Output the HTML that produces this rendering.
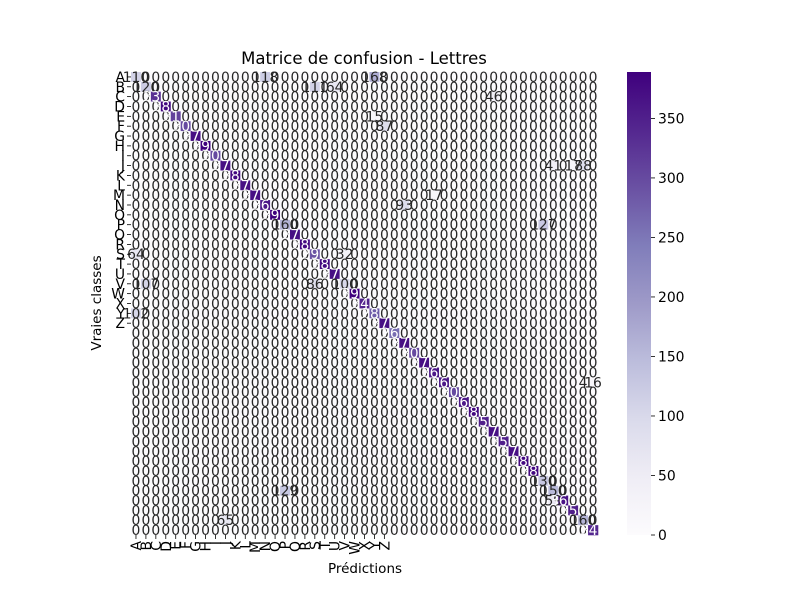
<!DOCTYPE html>
<html><head><meta charset="utf-8"><style>
body{margin:0;background:#fff}
svg{display:block;font-family:"DejaVu Sans","Liberation Sans",sans-serif}
</style></head><body>
<svg id="chart" width="800" height="600" xmlns="http://www.w3.org/2000/svg">
<rect width="800" height="600" fill="#fff"/>
<text x="364" y="64" text-anchor="middle" font-size="16.5">Matrice de confusion - Lettres</text>
<g id="cells"></g>
<g id="yticks"></g>
<g id="xticks"></g>
<text x="365" y="573" text-anchor="middle" font-size="13.5">Prédictions</text>
<text transform="translate(101,303) rotate(-90)" text-anchor="middle" font-size="13.5">Vraies classes</text>
<g id="cbar"></g>
</svg>
<script>
const classLabels = ["A","B","C","D","E","F","G","H","I","J","K","L","M","N","O","P","Q","R","S","T","U","V","W","X","Y","Z"];
const diagValues = [110,120,330,380,310,300,370,390,300,370,380,370,370,360,390,160,370,380,290,380,370,100,390,345,280,370,
  260,370,300,370,360,360,300,360,380,350,370,350,370,380,380,130,150,365,350,160,340];
// sparse off-diagonal entries: [row, col, value]
const offDiag = [[0,24,168],[0,13,118],[1,18,111],[1,20,64],[2,36,46],[4,24,15],[5,25,87],[9,42,41],[9,45,88],[9,44,17],
  [15,41,127],[18,0,64],[18,21,32],[21,1,107],[21,18,86],[24,0,102],[42,15,129],[45,9,65],[43,42,59],[31,45,4],[31,46,16],[12,30,17],[13,27,93]];
const colorTicks = [0,50,100,150,200,250,300,350];
const vmax = 389;
const N = diagValues.length;

const L=131,R=598,T=72,B=535, cw=(R-L)/N, ch=(B-T)/N;
const xPos=c=>L+c*cw, yPos=r=>T+r*ch;
const stops=[[0,[252,251,253]],[0.125,[239,237,245]],[0.25,[218,218,235]],[0.375,[188,189,220]],[0.5,[158,154,200]],[0.625,[128,125,186]],[0.75,[106,81,163]],[0.875,[84,39,143]],[1,[63,0,125]]];
function cmap(v){let t=Math.max(0,Math.min(1,v/vmax));for(let i=1;i<stops.length;i++){if(t<=stops[i][0]){const a=stops[i-1],b=stops[i];const f=(t-a[0])/(b[0]-a[0]);const c=a[1].map((x,k)=>Math.round(x+(b[1][k]-x)*f));return `rgb(${c})`;}}return 'rgb(63,0,125)';}
const NS="http://www.w3.org/2000/svg";
function mk(tag,attrs,parent){const e=document.createElementNS(NS,tag);for(const k in attrs)e.setAttribute(k,attrs[k]);parent.appendChild(e);return e;}
const M=[];for(let r=0;r<N;r++){M.push(new Array(N).fill(0));M[r][r]=diagValues[r];}
offDiag.forEach(([r,c,v])=>{M[r][c]=v;});
const cells=document.getElementById('cells');
for(let r=0;r<N;r++)for(let c=0;c<N;c++){
  const v=M[r][c];
  const rect=mk('rect',{x:xPos(c),y:yPos(r),width:cw+0.3,height:ch+0.3,fill:cmap(v)},cells);
  
  
}
for(let r=0;r<N;r++)for(let c=0;c<N;c++){
  const v=M[r][c];
  const t=mk('text',{x:xPos(c)+cw/2,y:yPos(r)+ch/2+5,'text-anchor':'middle','font-size':13.9,fill:v>vmax*0.5?'#fff':'#262626'},cells);
  t.textContent=v;
  
  
}
const yt=document.getElementById('yticks'), xt=document.getElementById('xticks');
classLabels.forEach((lab,i)=>{
  const y=yPos(i)+ch/2;
  mk('line',{x1:L-4,x2:L,y1:y,y2:y,stroke:'#000','stroke-width':0.8},yt);
  const t=mk('text',{x:L-6,y:y+5,'text-anchor':'end','font-size':13.9},yt);t.textContent=lab;
  
  
  const x=xPos(i)+cw/2;
  mk('line',{x1:x,x2:x,y1:B,y2:B+4,stroke:'#000','stroke-width':0.8},xt);
  const u=mk('text',{transform:`translate(${x+5},${B+6}) rotate(-90)`,'text-anchor':'end','font-size':13.9},xt);u.textContent=lab;
  
  
});
const cb=document.getElementById('cbar');
const defs=mk('defs',{},cb);const g=mk('linearGradient',{id:'pg',x1:0,y1:1,x2:0,y2:0},defs);
stops.forEach(s=>mk('stop',{offset:s[0],'stop-color':`rgb(${s[1]})`},g));
mk('rect',{x:627,y:T,width:24,height:B-T,fill:'url(#pg)'},cb);
colorTicks.forEach(v=>{const y=B-(v/vmax)*(B-T);
  mk('line',{x1:651,x2:655,y1:y,y2:y,stroke:'#000','stroke-width':0.8},cb);
  const t=mk('text',{x:658,y:y+5,'font-size':13.9},cb);t.textContent=v;
  
  
});
</script>
</body></html>
